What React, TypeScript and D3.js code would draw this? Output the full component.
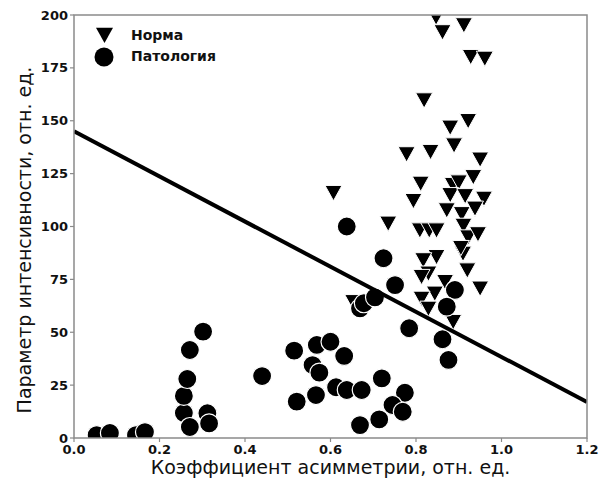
import React from "react";
import * as d3 from "d3";

const normaX = [0.847, 0.862, 0.912, 0.928, 0.961, 0.819, 0.922, 0.880, 0.889, 0.778, 0.834, 0.950, 0.934, 0.811, 0.886, 0.900, 0.794, 0.880, 0.915, 0.959, 0.872, 0.907, 0.938, 0.735, 0.809, 0.831, 0.848, 0.911, 0.922, 0.945, 0.607, 0.910, 0.848, 0.817, 0.829, 0.813, 0.920, 0.868, 0.950, 0.844, 0.813, 0.829, 0.887, 0.653, 0.905];
const normaY = [199, 192, 195.3, 180.3, 179.5, 159.8, 150, 146.9, 138.5, 134.3, 135.4, 131.8, 123.5, 120.4, 119.8, 121, 112.2, 115, 114.5, 113.3, 107.8, 106, 108.6, 101.5, 98.3, 98.3, 98.3, 100.5, 95, 96.5, 116, 87.3, 85.7, 84.2, 77.9, 76.3, 79.4, 73.9, 70.8, 68.4, 66, 61.3, 55, 64.4, 90];

const patX = [0.053, 0.084, 0.145, 0.166, 0.257, 0.271, 0.257, 0.265, 0.271, 0.302, 0.312, 0.316, 0.44, 0.515, 0.521, 0.568, 0.600, 0.632, 0.558, 0.574, 0.566, 0.613, 0.638, 0.673, 0.720, 0.669, 0.714, 0.774, 0.745, 0.769, 0.784, 0.669, 0.678, 0.704, 0.751, 0.724, 0.638, 0.891, 0.872, 0.862, 0.876];
const patY = [1.4, 2.4, 1.4, 2.8, 11.8, 5.2, 19.9, 27.9, 41.6, 50.3, 11.7, 6.9, 29.3, 41.3, 17.2, 44, 45.5, 38.8, 34.5, 30.9, 20.3, 24, 22.7, 22.7, 28.2, 6.1, 8.8, 21.4, 15.6, 12.4, 51.9, 61.3, 63.7, 66.5, 72.3, 85, 100, 70, 62.1, 46.7, 36.9];

const lineX = [0, 1.2];
const lineY = [145, 17];

const xTicks = [0, 0.2, 0.4, 0.6, 0.8, 1.0, 1.2];
const yTicks = [0, 25, 50, 75, 100, 125, 150, 175, 200];

const legendLabels = ["Норма", "Патология"];

const W = 608, H = 484;
const L = 74, R = 587, T = 15, B = 438;

export default function App() {
  const x = d3.scaleLinear().domain([0, 1.2]).range([L, R]);
  const y = d3.scaleLinear().domain([0, 200]).range([B, T]);
  const font = "DejaVu Sans, sans-serif";
  const line = d3.line<number>().x((d) => x(lineX[d])).y((d) => y(lineY[d]));
  const spine = "#8a8a8a";
  const s = 8.5;
  const triDown = `M${-s},${-s * 0.85}L${s},${-s * 0.85}L0,${s * 0.95}Z`;
  return (
    <svg width={W} height={H} style={{ position: "fixed", left: 0, top: 0, background: "#fff" }} fontFamily={font}>
      <rect x={0} y={0} width={W} height={H} fill="#fff" />
      <defs>
        <clipPath id="plot">
          <rect x={L} y={T} width={R - L} height={B - T} />
        </clipPath>
      </defs>
      <g clipPath="url(#plot)">
        {normaX.map((v, i) => (
          <path key={"n" + i} d={triDown} transform={`translate(${x(v)},${y(normaY[i])})`} fill="#000" stroke="#fff" strokeWidth={1} />
        ))}
        {patX.map((v, i) => (
          <circle key={"p" + i} cx={x(v)} cy={y(patY[i])} r={9.5} fill="#000" stroke="#fff" strokeWidth={1.2} />
        ))}
        <path d={line([0, 1]) as string} stroke="#000" strokeWidth={4} fill="none" />
      </g>
      <rect x={L} y={T} width={R - L} height={B - T} fill="none" stroke={spine} strokeWidth={1.5} />
      {xTicks.map((t) => (
        <g key={"x" + t}>
          <line x1={x(t)} x2={x(t)} y1={B} y2={B + 4} stroke={spine} strokeWidth={1.2} />
          <text x={x(t)} y={B + 16} textAnchor="middle" fontSize={13} fontWeight="bold" fill="#111">
            {t.toFixed(1)}
          </text>
        </g>
      ))}
      {yTicks.map((t) => (
        <g key={"y" + t}>
          <line x1={L - 4} x2={L} y1={y(t)} y2={y(t)} stroke={spine} strokeWidth={1.2} />
          <text x={L - 6} y={y(t) + 4.5} textAnchor="end" fontSize={13} fontWeight="bold" fill="#111">
            {t}
          </text>
        </g>
      ))}
      <text x={(L + R) / 2} y={474} textAnchor="middle" fontSize={19} fill="#111">
        Коэффициент асимметрии, отн. ед.
      </text>
      <text transform={`translate(31,240) rotate(-90)`} textAnchor="middle" fontSize={19} fill="#111">
        Параметр интенсивности, отн. ед.
      </text>
      <path d={triDown} transform={`translate(104.5,35)`} fill="#000" />
      <circle cx={104} cy={57} r={9.5} fill="#000" />
      <text x={131} y={39.5} fontSize={14} fontWeight="bold" fill="#111">{legendLabels[0]}</text>
      <text x={131} y={61} fontSize={14} fontWeight="bold" fill="#111">{legendLabels[1]}</text>
    </svg>
  );
}
